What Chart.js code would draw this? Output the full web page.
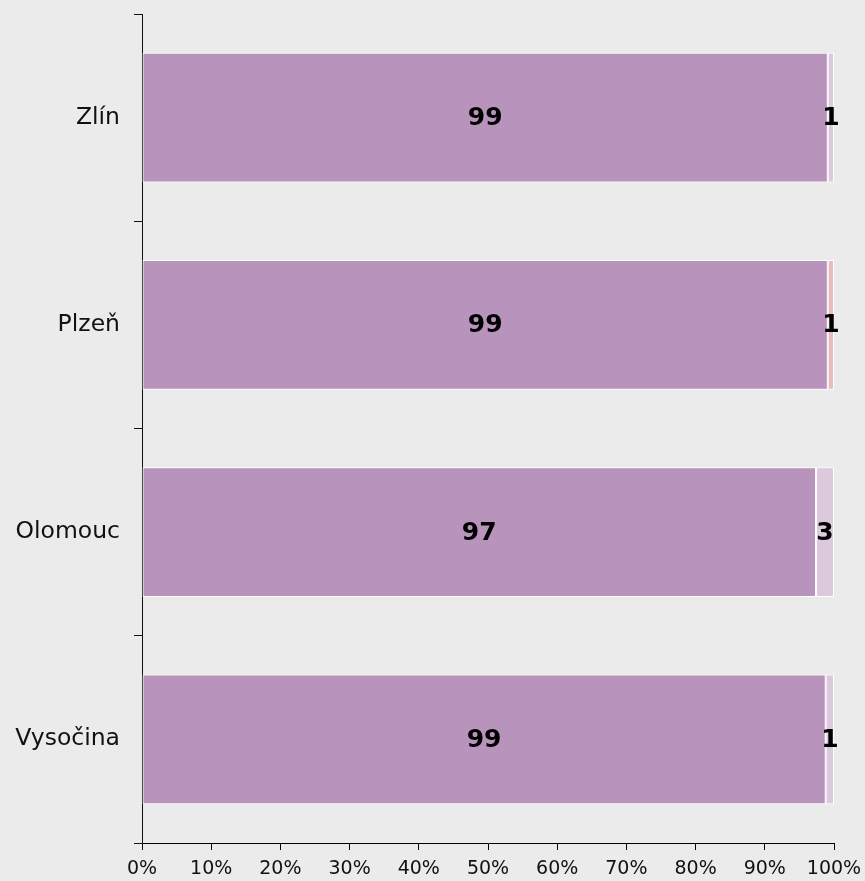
<!DOCTYPE html>
<html>
<head>
<meta charset="utf-8">
<script src="https://cdn.jsdelivr.net/npm/chart.js@4/dist/chart.umd.min.js"></script>
<style>
  html, body { margin: 0; padding: 0; background: #ebebeb; }
  #wrap { width: 865px; height: 881px; }
</style>
</head>
<body>
<div id="wrap"><canvas id="c" width="865" height="881"></canvas></div>
<script>
const categories = ['Zlín', 'Plzeň', 'Olomouc', 'Vysočina'];
const seriesMain = [99.1, 99.1, 97.4, 98.8];
const seriesLight = [0.9, 0, 2.6, 1.2];
const seriesPink = [0, 0.9, 0, 0];
const xTickValues = [0, 10, 20, 30, 40, 50, 60, 70, 80, 90, 100];

const FONT = '"DejaVu Sans", Verdana, sans-serif';

const bgPlugin = {
  id: 'bg',
  beforeDraw(chart) {
    const ctx = chart.ctx;
    ctx.save();
    ctx.fillStyle = '#ebebeb';
    ctx.fillRect(0, 0, chart.width, chart.height);
    ctx.restore();
  }
};

const labelPlugin = {
  id: 'barLabels',
  afterDatasetsDraw(chart) {
    const ctx = chart.ctx;
    ctx.save();
    ctx.font = 'bold 25px ' + FONT;
    ctx.fillStyle = '#000';
    ctx.textAlign = 'center';
    ctx.textBaseline = 'middle';
    chart.data.datasets.forEach((ds, di) => {
      const meta = chart.getDatasetMeta(di);
      meta.data.forEach((el, i) => {
        const v = ds.data[i];
        if (!v || v <= 0) return;
        const cx = (el.x + el.base) / 2;
        ctx.fillText(String(Math.round(v)), cx, el.y + 1);
      });
    });
    ctx.restore();
  }
};

new Chart(document.getElementById('c'), {
  type: 'bar',
  data: {
    labels: categories,
    datasets: [
      { label: 'A', data: seriesMain, backgroundColor: '#b894bd', borderColor: '#ffffff', borderWidth: 1, borderSkipped: false },
      { label: 'B', data: seriesLight, backgroundColor: '#ddc9de', borderColor: '#ffffff', borderWidth: 1, borderSkipped: false },
      { label: 'C', data: seriesPink, backgroundColor: '#e9bcbb', borderColor: '#ffffff', borderWidth: 1, borderSkipped: false }
    ]
  },
  options: {
    indexAxis: 'y',
    responsive: false,
    animation: false,
    devicePixelRatio: 1,
    layout: { padding: { top: 14, right: 31, left: 0, bottom: 0 } },
    datasets: { bar: { categoryPercentage: 0.625, barPercentage: 1 } },
    plugins: { legend: { display: false }, tooltip: { enabled: false } },
    scales: {
      x: {
        stacked: true,
        min: 0, max: 100,
        afterBuildTicks(scale) { scale.ticks = xTickValues.map(v => ({ value: v })); },
        afterFit(scale) { scale.height = 38; scale.paddingLeft = 0; scale.paddingRight = 0; },
        border: { display: true, color: '#000', width: 1 },
        grid: { display: true, drawOnChartArea: false, drawTicks: true, tickLength: 7, color: '#000' },
        ticks: { color: '#111', font: { family: FONT, size: 19 }, padding: 8, maxRotation: 0, autoSkip: false, callback: v => v + '%' }
      },
      y: {
        stacked: true,
        afterFit(scale) { scale.width = 142; scale.paddingTop = 0; scale.paddingBottom = 0; },
        border: { display: true, color: '#111', width: 1 },
        grid: { display: true, offset: true, drawOnChartArea: false, drawTicks: true, tickLength: 8, color: '#111' },
        ticks: { color: '#111', font: { family: FONT, size: 23.5 }, padding: 14 }
      }
    }
  },
  plugins: [bgPlugin, labelPlugin]
});
</script>
</body>
</html>
